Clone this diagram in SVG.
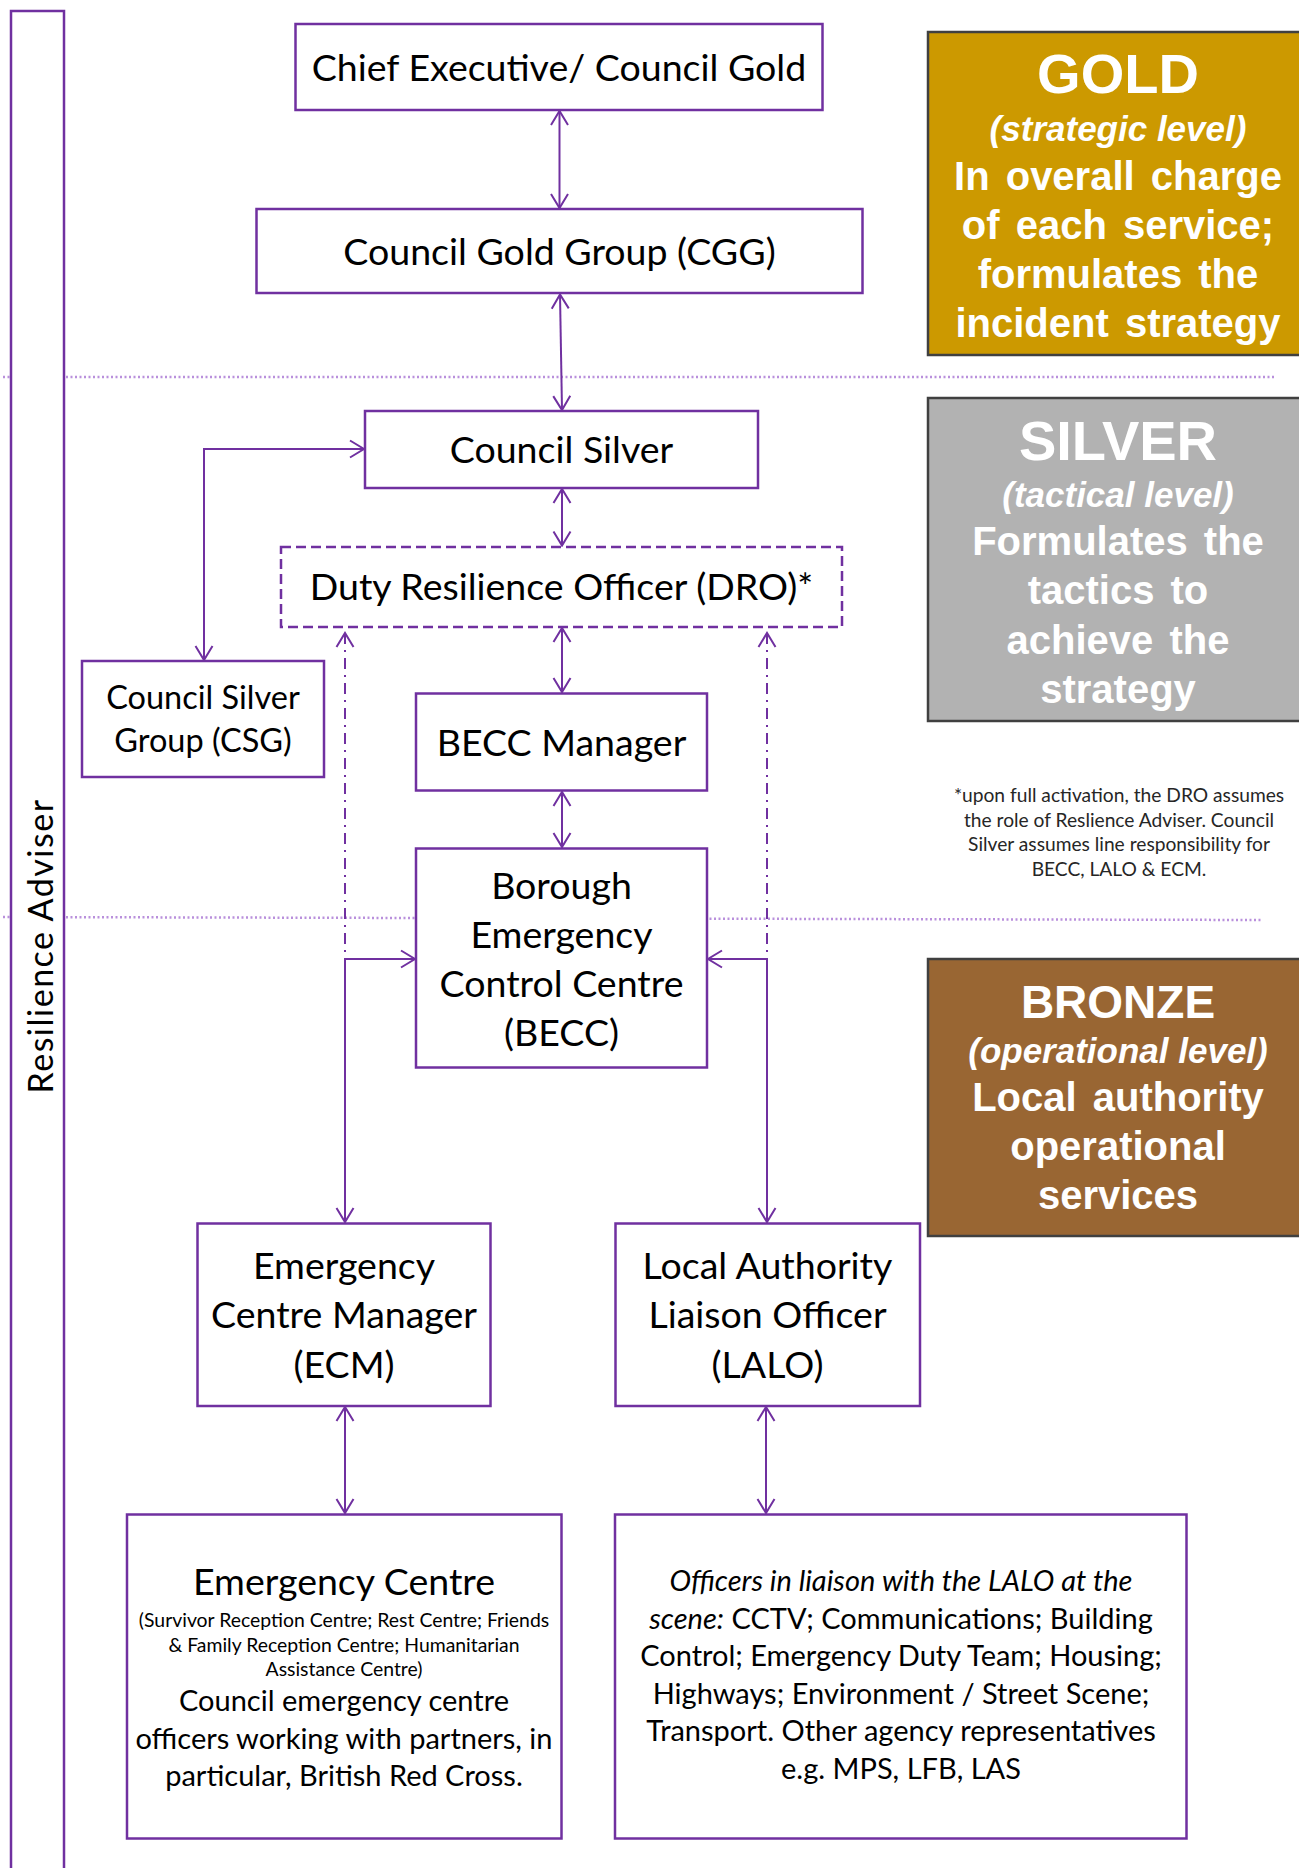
<svg xmlns="http://www.w3.org/2000/svg" width="1299" height="1868" viewBox="0 0 1299 1868">
<style>
.box{fill:#fff;stroke:#7030A0;stroke-width:2.5}
.dbox{fill:#fff;stroke:#7030A0;stroke-width:2.5;stroke-dasharray:10 5}
.t{font-family:Lato,"Liberation Sans",sans-serif;font-size:37.5px;fill:#000;text-anchor:middle}
.ts{font-family:Lato,"Liberation Sans",sans-serif;font-size:32.5px;fill:#000;text-anchor:middle}
.tb{font-family:Lato,"Liberation Sans",sans-serif;font-size:29px;fill:#000;text-anchor:middle}
.tx{font-family:Lato,"Liberation Sans",sans-serif;font-size:19.4px;fill:#000;text-anchor:middle}
.fn{font-family:Lato,"Liberation Sans",sans-serif;font-size:19.2px;fill:#262626;text-anchor:middle}
.p{font-family:"Liberation Sans",Arial,sans-serif;font-weight:bold;fill:#fff;text-anchor:middle}
.ph{font-size:56px}
.pi{font-size:35px;font-style:italic}
.pl{font-size:40px;word-spacing:5px}
.panel{stroke:#404040;stroke-width:2.5}
.c{fill:none;stroke:#7030A0;stroke-width:2}
.dd{stroke-dasharray:11 6 2 6}
.dot{fill:none;stroke:#B990DC;stroke-width:2.5;stroke-dasharray:2 2.5}
</style>
<defs>
<marker id="ah" viewBox="-17 -11 19 22" refX="0" refY="0" markerWidth="19" markerHeight="22" markerUnits="userSpaceOnUse" orient="auto-start-reverse">
<path d="M-14,-8.5 L0,0 L-14,8.5" fill="none" stroke="#7030A0" stroke-width="2" stroke-dasharray="none"/>
</marker>
</defs>

<g id="dividers">
<line class="dot" x1="3" y1="377" x2="1276" y2="377"/>
<line class="dot" x1="3" y1="917" x2="1263" y2="920"/>
</g>

<g id="resilience-adviser">
<rect x="11" y="11" width="53" height="1870" fill="#fff" stroke="#7030A0" stroke-width="2.5"/>
<text transform="translate(53,946) rotate(-90)" font-family="Lato,'Liberation Sans',sans-serif" font-size="34" letter-spacing="1.5" text-anchor="middle" fill="#000">Resilience Adviser</text>
</g>

<g id="gold-panel">
<rect class="panel" x="928" y="32" width="385" height="323" fill="#CC9900"/>
<text class="p ph" x="1118" y="93">GOLD</text>
<text class="p pi" x="1118" y="141">(strategic level)</text>
<text class="p pl" x="1118" y="190">In overall charge</text>
<text class="p pl" x="1118" y="239">of each service;</text>
<text class="p pl" x="1118" y="288">formulates the</text>
<text class="p pl" x="1118" y="337">incident strategy</text>
</g>

<g id="silver-panel">
<rect class="panel" x="928" y="398" width="385" height="323" fill="#B2B2B2"/>
<text class="p ph" x="1118" y="460">SILVER</text>
<text class="p pi" x="1118" y="507">(tactical level)</text>
<text class="p pl" x="1118" y="555">Formulates the</text>
<text class="p pl" x="1118" y="604">tactics to</text>
<text class="p pl" x="1118" y="654">achieve the</text>
<text class="p pl" x="1118" y="703">strategy</text>
</g>

<g id="footnote">
<text class="fn" x="1119" y="802">*upon full activation, the DRO assumes</text>
<text class="fn" x="1119" y="826.5">the role of Reslience Adviser. Council</text>
<text class="fn" x="1119" y="851">Silver assumes line responsibility for</text>
<text class="fn" x="1119" y="875.5">BECC, LALO &amp; ECM.</text>
</g>

<g id="bronze-panel">
<rect class="panel" x="928" y="959" width="385" height="277" fill="#996633"/>
<text class="p" x="1118" y="1018" font-size="46">BRONZE</text>
<text class="p pi" x="1118" y="1063">(operational level)</text>
<text class="p pl" x="1118" y="1111">Local authority</text>
<text class="p pl" x="1118" y="1160">operational</text>
<text class="p pl" x="1118" y="1209">services</text>
</g>

<g id="connectors">
<path class="c" d="M559.5,111 V208" marker-start="url(#ah)" marker-end="url(#ah)"/>
<path class="c" d="M560,294.5 L562,410" marker-start="url(#ah)" marker-end="url(#ah)"/>
<path class="c" d="M562,489 V545.5" marker-start="url(#ah)" marker-end="url(#ah)"/>
<path class="c" d="M562,628 V692" marker-start="url(#ah)" marker-end="url(#ah)"/>
<path class="c" d="M562,792 V847" marker-start="url(#ah)" marker-end="url(#ah)"/>
<path class="c" d="M364,449 H204 V660" marker-start="url(#ah)" marker-end="url(#ah)"/>
<path class="c dd" d="M345,633 V959" marker-start="url(#ah)"/>
<path class="c dd" d="M767,633 V959" marker-start="url(#ah)"/>
<path class="c" d="M415,959 H345 V1222" marker-start="url(#ah)" marker-end="url(#ah)"/>
<path class="c" d="M708,959 H767 V1222" marker-start="url(#ah)" marker-end="url(#ah)"/>
<path class="c" d="M345,1407 V1513" marker-start="url(#ah)" marker-end="url(#ah)"/>
<path class="c" d="M766,1407 V1513" marker-start="url(#ah)" marker-end="url(#ah)"/>
</g>

<g id="chief-executive">
<rect class="box" x="295.5" y="24" width="527" height="86"/>
<text class="t" x="559" y="81">Chief Executive/ Council Gold</text>
</g>

<g id="cgg">
<rect class="box" x="256.5" y="209" width="606" height="84"/>
<text class="t" x="559.5" y="265">Council Gold Group (CGG)</text>
</g>

<g id="council-silver">
<rect class="box" x="365" y="411" width="393" height="77"/>
<text class="t" x="561.5" y="463">Council Silver</text>
</g>

<g id="dro">
<rect class="dbox" x="281" y="547" width="561" height="80"/>
<text class="t" x="561.5" y="600">Duty Resilience Officer (DRO)*</text>
</g>

<g id="csg">
<rect class="box" x="82" y="661" width="242" height="116"/>
<text class="ts" x="203" y="709">Council Silver</text>
<text class="ts" x="203" y="752">Group (CSG)</text>
</g>

<g id="becc-manager">
<rect class="box" x="416" y="693.5" width="291" height="97"/>
<text class="t" x="561.5" y="756">BECC Manager</text>
</g>

<g id="becc">
<rect class="box" x="416" y="848.5" width="291" height="219"/>
<text class="t" x="561.5" y="899">Borough</text>
<text class="t" x="561.5" y="948">Emergency</text>
<text class="t" x="561.5" y="997">Control Centre</text>
<text class="t" x="561.5" y="1046">(BECC)</text>
</g>

<g id="ecm">
<rect class="box" x="197.5" y="1223.5" width="293" height="182.5"/>
<text class="t" x="344" y="1279">Emergency</text>
<text class="t" x="344" y="1328">Centre Manager</text>
<text class="t" x="344" y="1378">(ECM)</text>
</g>

<g id="lalo">
<rect class="box" x="615.5" y="1223.5" width="304.5" height="182.5"/>
<text class="t" x="767.5" y="1279">Local Authority</text>
<text class="t" x="767.5" y="1328">Liaison Officer</text>
<text class="t" x="767.5" y="1378">(LALO)</text>
</g>

<g id="emergency-centre">
<rect class="box" x="127" y="1514.5" width="434.5" height="324"/>
<text class="t" x="344" y="1595" font-size="38">Emergency Centre</text>
<text class="tx" x="344" y="1627">(Survivor Reception Centre; Rest Centre; Friends</text>
<text class="tx" x="344" y="1652">&amp; Family Reception Centre; Humanitarian</text>
<text class="tx" x="344" y="1676">Assistance Centre)</text>
<text class="tb" x="344" y="1711">Council emergency centre</text>
<text class="tb" x="344" y="1749">officers working with partners, in</text>
<text class="tb" x="344" y="1786">particular, British Red Cross.</text>
</g>

<g id="officers">
<rect class="box" x="615" y="1514.5" width="571.5" height="324"/>
<text class="tb" x="901" y="1591" font-style="italic">Officers in liaison with the LALO at the</text>
<text class="tb" x="901" y="1629"><tspan font-style="italic">scene:</tspan> CCTV; Communications; Building</text>
<text class="tb" x="901" y="1666">Control; Emergency Duty Team; Housing;</text>
<text class="tb" x="901" y="1704">Highways; Environment / Street Scene;</text>
<text class="tb" x="901" y="1741">Transport. Other agency representatives</text>
<text class="tb" x="901" y="1779">e.g. MPS, LFB, LAS</text>
</g>
</svg>
